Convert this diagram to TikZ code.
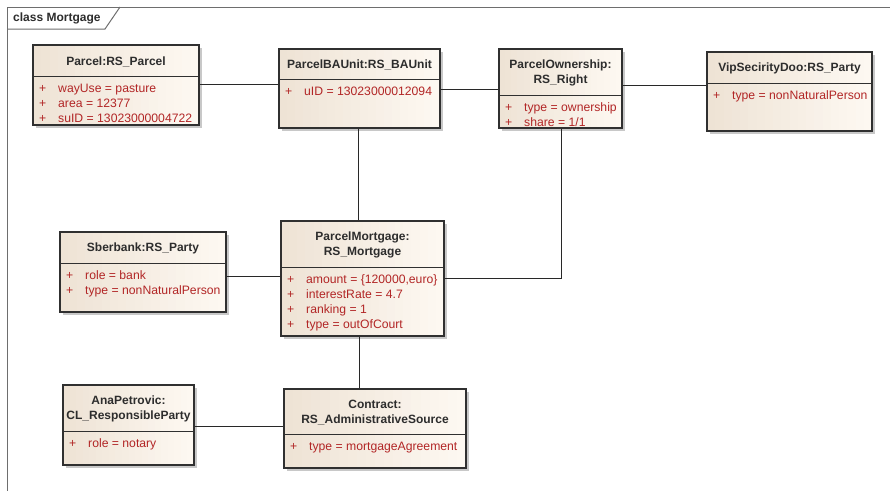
\documentclass[tikz,border=0pt]{standalone}
\usepackage{fontspec}
\setmainfont{Liberation Sans}
\usetikzlibrary{fit}
\definecolor{boxline}{RGB}{48,48,48}
\definecolor{frameline}{RGB}{110,110,110}
\definecolor{fillL}{RGB}{238,227,213}
\definecolor{fillR}{RGB}{254,249,243}
\definecolor{attrred}{RGB}{178,38,38}
\definecolor{titlegray}{RGB}{45,45,45}
\definecolor{conn}{RGB}{40,40,40}
\definecolor{shadowgray}{RGB}{200,200,200}
\tikzset{
  objbox/.style={draw=boxline, line width=1.1pt, inner sep=0pt},
  shadowbox/.style={fill=shadowgray, draw=none},
  divline/.style={draw=boxline, line width=1pt},
  titletext/.style={font=\fontsize{12}{15}\selectfont\bfseries, text=titlegray, align=center, inner sep=0pt},
  attrtext/.style={font=\fontsize{12.2}{15}\selectfont, text=attrred, anchor=base west, inner sep=0pt},
  connline/.style={draw=conn, line width=1pt},
  frame/.style={draw=frameline, line width=1pt}
}
\newcommand\umlobj[8]{%
  \fill[shadowbox] ({#2+3},{#3+3}) rectangle ({#4+3},{#5+3});
  % horizontal gradient drawn as narrow strips, darker at the left
  \foreach \k in {0,...,19}{%
    \pgfmathtruncatemacro\pc{100-5*\k}%
    \fill[fillL!\pc!fillR] ({#2+(#4-#2)*\k/20},#3) rectangle ({#2+(#4-#2)*(\k+1)/20+0.6},#5);
  }
  \node[objbox, fit={(#2,#3)(#4,#5)}] (#1) {};
  \draw[divline] (#2,#6) -- (#4,#6);
  \node[titletext] at ({(#2+#4)/2},{(#3+#6)/2+1}) {#7};
  \foreach \t [count=\i] in {#8} \node[attrtext] at ({#2+6},{#6+16+15*(\i-1)}) {\makebox[19pt][l]{+}\t};
}
\begin{document}
\begin{tikzpicture}[x=1pt,y=-1pt]
\useasboundingbox (0,0) rectangle (890,491);
\fill[white] (0,0) rectangle (890,491);
% frame
\draw[frame] (890,7) -- (7,7) -- (7,491);
\draw[frame] (7,29) -- (105,29) -- (120,7);
\node[font=\fontsize{12}{14}\selectfont\bfseries, text=titlegray, anchor=west, inner sep=0pt] (framelabel) at (13,18) {class Mortgage};
% objects
\umlobj{parcel}{33}{45}{199}{125}{76}{Parcel:RS\_Parcel}{wayUse = pasture, area = 12377, suID = 13023000004722}
\umlobj{bau}{279}{49}{440}{128}{79}{ParcelBAUnit:RS\_BAUnit}{uID = 13023000012094}
\umlobj{own}{499}{49}{622}{128}{95}{ParcelOwnership:\\RS\_Right}{type = ownership, share = 1/1}
\umlobj{vip}{707}{52}{872}{131}{83}{VipSecirityDoo:RS\_Party}{type = nonNaturalPerson}
\umlobj{sber}{60}{232}{226}{312}{263}{Sberbank:RS\_Party}{role = bank, type = nonNaturalPerson}
\umlobj{mort}{281}{221}{444}{336}{267}{ParcelMortgage:\\RS\_Mortgage}{{amount = \{120000,euro\}}, interestRate = 4.7, ranking = 1, type = outOfCourt}
\umlobj{ana}{63}{385}{194}{465}{431}{AnaPetrovic:\\CL\_ResponsibleParty}{role = notary}
\umlobj{contract}{284}{389}{466}{468}{434}{Contract:\\RS\_AdministrativeSource}{type = mortgageAgreement}
% connectors
\draw[connline] (parcel.east |- 0,84) -- (bau.west |- 0,84);
\draw[connline] (bau.east |- 0,89) -- (own.west |- 0,89);
\draw[connline] (own.east |- 0,85) -- (vip.west |- 0,85);
\draw[connline] (bau.south -| 358,0) -- (mort.north -| 358,0);
\draw[connline] (sber.east |- 0,276) -- (mort.west |- 0,276);
\draw[connline] (mort.east |- 0,278) -| (own.south -| 561,0);
\draw[connline] (mort.south -| 359,0) -- (contract.north -| 359,0);
\draw[connline] (ana.east |- 0,426) -- (contract.west |- 0,426);
\end{tikzpicture}
\end{document}
